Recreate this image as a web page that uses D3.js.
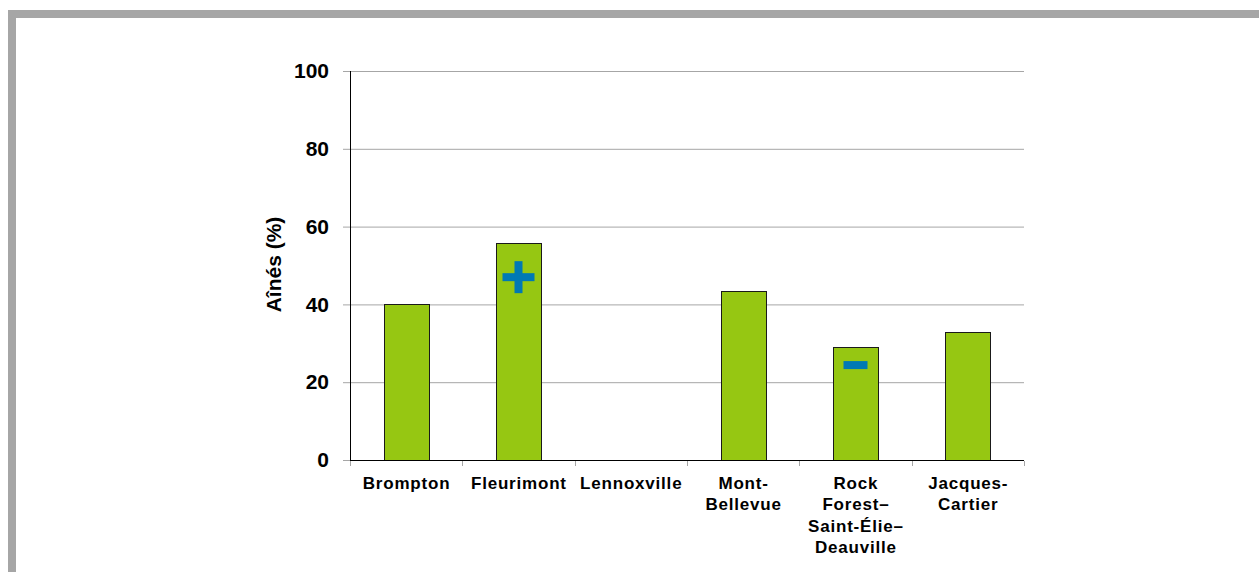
<!DOCTYPE html>
<html>
<head>
<meta charset="utf-8">
<script src="https://cdn.jsdelivr.net/npm/d3@7"></script>
<style>
    body { margin: 0; background: #fff; font-family: "Liberation Sans", Arial, sans-serif; }
    .x.axis text, .y.axis text { font-weight: bold; fill: #000; font-family: "Liberation Sans", Arial, sans-serif; }
</style>
</head>
<body>
<script>
const categories = ['Brompton', 'Fleurimont', 'Lennoxville', 'Mont-Bellevue', 'Rock Forest–Saint-Élie–Deauville', 'Jacques-Cartier'];
const labelLines = [['Brompton'], ['Fleurimont'], ['Lennoxville'], ['Mont-', 'Bellevue'], ['Rock', 'Forest–', 'Saint-Élie–', 'Deauville'], ['Jacques-', 'Cartier']];
const values = [40.1, 55.8, null, 43.4, 29.0, 32.9];
const signs = ['', '+', '', '', '-', ''];
const signLevels = [null, 47, null, null, 24.4, null];
const yTicks = [0, 20, 40, 60, 80, 100];

const outerW = 1259,
    outerH = 572;

const margin = { left: 350, top: 71, right: 235, bottom: 112 };
const w = outerW - margin.left - margin.right,
    h = outerH - margin.top - margin.bottom;

const svg = d3.select('body').append('svg')
    .attr('width', outerW)
    .attr('height', outerH);

// grey frame
svg.append('rect')
    .attr('x', 12)
    .attr('y', 14)
    .attr('width', outerW + 20)
    .attr('height', outerH + 20)
    .attr('fill', 'none')
    .attr('stroke', '#a6a6a6')
    .attr('stroke-width', 8);

const g = svg.append('g')
    .attr('transform', `translate(${margin.left}, ${margin.top})`);

const x = d3.scaleBand().range([0, w]).domain(categories).paddingInner(0.6).paddingOuter(0.3);
const band = d3.scaleBand().range([0, w]).domain(categories);
const y = d3.scaleLinear().range([h, 0]).domain([0, 100]);

// gridlines
g.append('g')
    .selectAll('line')
    .data(yTicks.filter(d => d > 0))
    .enter()
    .append('line')
    .attr('x1', 0)
    .attr('x2', w)
    .attr('y1', d => y(d) + 0.5)
    .attr('y2', d => y(d) + 0.5)
    .attr('stroke', '#a6a6a6');

const yAxis = g.append('g')
    .attr('class', 'y axis')
    .call(d3.axisLeft(y)
        .tickValues(yTicks)
        .tickSize(7)
        .tickPadding(14)
    );
yAxis.select('.domain').remove();
yAxis.selectAll('line').attr('stroke', '#a6a6a6');
yAxis.selectAll('text').style('font-size', '21px');

// bars
const gs = g.selectAll('.bar')
    .data(categories.map((c, i) => ({ c, v: values[i], s: signs[i], lv: signLevels[i] })).filter(d => d.v != null))
    .enter()
    .append('g')
    .attr('class', 'bar');

gs.append('rect')
    .attr('x', d => Math.round(x(d.c)) + 0.5)
    .attr('y', d => Math.round(y(d.v)) + 0.5)
    .attr('width', Math.round(x.bandwidth()))
    .attr('height', d => Math.round(h - y(d.v)))
    .attr('fill', '#96c712')
    .attr('stroke', '#1a1a1a')
    .attr('stroke-width', 1);

// plus / minus markers
const markers = gs.filter(d => d.s !== '');
markers.each(function(d) {
    const cx = band(d.c) + band.bandwidth() / 2,
        cy = y(d.lv);
    const m = d3.select(this);
    m.append('rect')
        .attr('x', d.s === '+' ? cx - 16 : cx - 12)
        .attr('y', cy - 4)
        .attr('width', d.s === '+' ? 32 : 24)
        .attr('height', 8)
        .attr('fill', '#0079b4');
    if (d.s === '+') {
        m.append('rect')
            .attr('x', cx - 4)
            .attr('y', cy - 16)
            .attr('width', 8)
            .attr('height', 32)
            .attr('fill', '#0079b4');
    }
});

// y axis line
g.append('line')
    .attr('x1', 0.5).attr('x2', 0.5)
    .attr('y1', 0).attr('y2', h)
    .attr('stroke', '#000');

// x axis
const xAxis = g.append('g')
    .attr('class', 'x axis')
    .attr('transform', `translate(0, ${h})`);

xAxis.append('line')
    .attr('x1', 0).attr('x2', w)
    .attr('y1', 0.5).attr('y2', 0.5)
    .attr('stroke', '#000');

xAxis.selectAll('.tick')
    .data(d3.range(categories.length + 1))
    .enter()
    .append('line')
    .attr('x1', i => Math.round(i * band.bandwidth()) + 0.5)
    .attr('x2', i => Math.round(i * band.bandwidth()) + 0.5)
    .attr('y1', 1)
    .attr('y2', 6)
    .attr('stroke', '#a6a6a6');

const labels = xAxis.selectAll('.lab')
    .data(categories)
    .enter()
    .append('text')
    .attr('class', 'lab')
    .attr('text-anchor', 'middle')
    .style('font-size', '17px')
    .style('letter-spacing', '0.8px')
    .attr('transform', d => `translate(${band(d) + band.bandwidth() / 2 + 0.4}, 0)`);

labels.selectAll('tspan')
    .data((d, i) => labelLines[i])
    .enter()
    .append('tspan')
    .attr('x', 0)
    .attr('y', (d, i) => 29 + i * 21.3)
    .text(d => d);

// y title
g.append('text')
    .attr('transform', `translate(${-69}, ${h / 2 - 1}) rotate(-90)`)
    .attr('text-anchor', 'middle')
    .style('font-size', '21px')
    .style('font-weight', 'bold')
    .text('Aînés (%)');
</script>
</body>
</html>
